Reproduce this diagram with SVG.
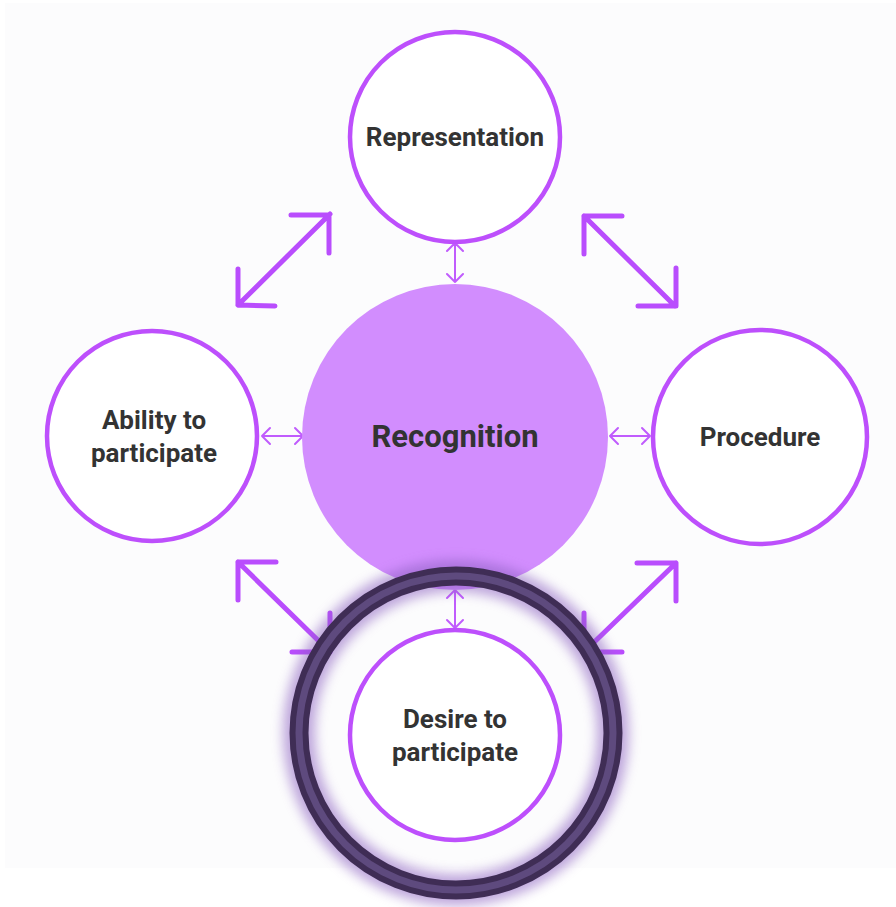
<svg xmlns="http://www.w3.org/2000/svg" width="896" height="907" viewBox="0 0 896 907">
<defs>
<style>
.node{fill:#fff;stroke:#bd4ffc;stroke-width:4.5}
.lbl{font-family:Roboto,"Liberation Sans",sans-serif;font-weight:bold;font-size:26px;fill:#333;text-anchor:middle}
.big{stroke:#b94dfd;stroke-width:5;fill:none;stroke-linecap:round;stroke-linejoin:round}
.small{stroke:#c05cfd;stroke-width:2;fill:none;stroke-linecap:round;stroke-linejoin:round}
</style>
<filter id="glow" x="-30%" y="-30%" width="160%" height="160%">
<feGaussianBlur stdDeviation="6"/>
</filter>
</defs>
<rect x="0" y="0" width="896" height="907" fill="#ffffff"/>
<rect x="5" y="3" width="891" height="865" fill="#fcfcfd"/>
<g id="connectors">
<path class="big" d="M238,305 L330,214 M291,215 L329,215 L329,253 M238,269 L238,305 L275,306"/>
<path class="big" d="M584,216 L675,306 M584,254 L584,216 L622,216 M676,268 L676,306 L638,306"/>
<path class="big" d="M238,562 L330,652 M276,562 L238,562 L238,600 M330,613 L330,652 L292,652"/>
<path class="big" d="M584,652 L676,563 M637,563 L676,563 L676,601 M584,613 L584,652 L622,652"/>
<path class="small" d="M455,243 L455,282 M447,251 L455,243 L463,251 M447,274 L455,282 L463,274"/>
<path class="small" d="M455,590 L455,628 M447,598 L455,590 L463,598 M447,620 L455,628 L463,620"/>
<path class="small" d="M262,436 L303,436 M270,428 L262,436 L270,444 M295,428 L303,436 L295,444"/>
<path class="small" d="M610,436 L650,436 M618,428 L610,436 L618,444 M642,428 L650,436 L642,444"/>
</g>
<g id="representation">
<circle class="node" cx="455" cy="137" r="105"/>
<text class="lbl" x="455" y="146">Representation</text>
</g>
<g id="ability">
<circle class="node" cx="152" cy="436" r="105"/>
<text class="lbl" x="154" y="429">Ability to</text>
<text class="lbl" x="154" y="462">participate</text>
</g>
<g id="procedure">
<circle class="node" cx="760" cy="437" r="107"/>
<text class="lbl" x="760" y="446">Procedure</text>
</g>
<g id="recognition">
<circle cx="455" cy="437" r="153" fill="#d28dfe"/>
<text class="lbl" x="455" y="447" style="font-size:31px">Recognition</text>
</g>
<g id="desire">
<circle class="node" cx="455" cy="735" r="105"/>
<text class="lbl" x="455" y="728">Desire to</text>
<text class="lbl" x="455" y="761">participate</text>
</g>
<g id="highlight">
<circle cx="456" cy="733" r="157" fill="none" stroke="#8a5fc0" stroke-width="32" opacity="0.55" filter="url(#glow)"/>
<circle cx="456" cy="733" r="157" fill="none" stroke="#3f2d55" stroke-width="19"/>
<circle cx="456" cy="733" r="157" fill="none" stroke="#5e4a7e" stroke-width="7"/>
</g>
</svg>
